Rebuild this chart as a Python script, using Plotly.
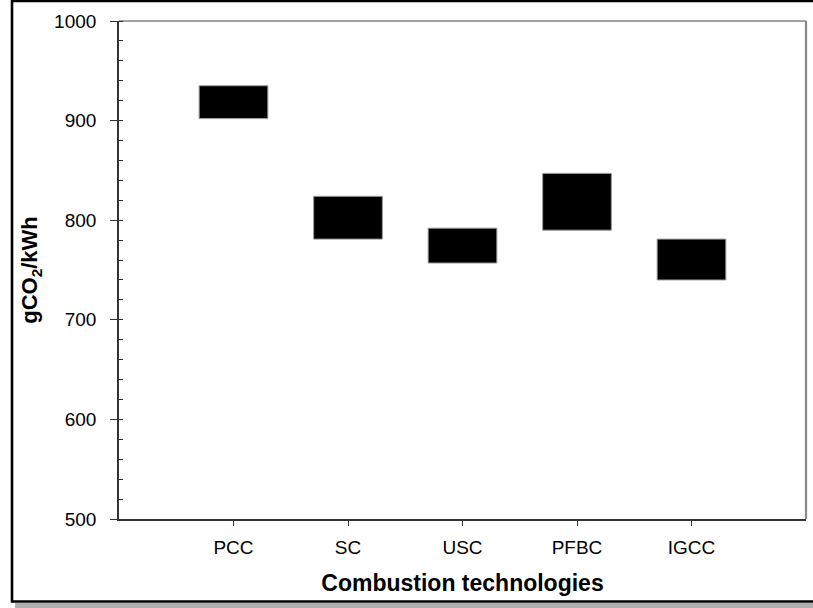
import plotly.graph_objects as go

categories = ["PCC", "SC", "USC", "PFBC", "IGCC"]
low_values = [902, 781, 757, 790, 740]
high_values = [935, 824, 792, 847, 781]
y_tick_values = [500, 600, 700, 800, 900, 1000]

heights = [h - l for h, l in zip(high_values, low_values)]

fig = go.Figure()
fig.add_trace(go.Bar(
    x=list(range(len(categories))),
    y=heights,
    base=low_values,
    width=0.6,
    marker=dict(color="black", line=dict(color="#9a9a9a", width=1)),
    showlegend=False,
    hoverinfo="skip",
))

W, H = 813, 608
L, R, T, B = 119, 7, 21, 89
pw, ph = W - L - R, H - T - B

def px(x):
    return (x - L) / pw

def py(y):
    return (H - B - y) / ph

font_family = "Liberation Sans, Arial, sans-serif"

fig.update_layout(
    width=W, height=H,
    margin=dict(l=L, r=R, t=T, b=B),
    paper_bgcolor="white",
    plot_bgcolor="white",
    font=dict(family=font_family, size=19, color="black"),
    xaxis=dict(
        range=[-1, 5],
        tickmode="array",
        tickvals=list(range(len(categories))),
        ticktext=categories,
        ticks="outside", ticklen=5, tickwidth=1.2, tickcolor="#333",
        showline=True, linecolor="#333", linewidth=1.6,
        showgrid=False, zeroline=False,
        ticklabelstandoff=5,
        title=dict(text="<b>Combustion technologies</b>", font=dict(size=23), standoff=18),
        fixedrange=True,
    ),
    yaxis=dict(
        range=[500, 1000],
        tickmode="array",
        tickvals=y_tick_values,
        ticks="outside", ticklen=7, tickwidth=1.2, tickcolor="#333",
        minor=dict(ticks="inside", ticklen=4, tickwidth=1.2, tickcolor="#333", dtick=20, showgrid=False),
        showline=True, linecolor="#333", linewidth=1.6,
        showgrid=False, zeroline=False,
        ticklabelstandoff=10,
        title=dict(text="<b>gCO<sub>2</sub>/kWh</b>", font=dict(size=22), standoff=10),
        fixedrange=True,
    ),
    shapes=[
        # shadow under outer frame
        dict(type="rect", xref="paper", yref="paper",
             x0=px(15), x1=px(840), y0=py(608), y1=py(603),
             fillcolor="#b0b0b0", line=dict(width=0), layer="below"),
        # outer frame
        dict(type="rect", xref="paper", yref="paper",
             x0=px(12), x1=px(840), y0=py(601.5), y1=py(1),
             line=dict(color="black", width=2.6), fillcolor="rgba(0,0,0,0)"),
        # top of plot box
        dict(type="line", xref="paper", yref="paper",
             x0=0, x1=1, y0=1, y1=1, line=dict(color="#444", width=1)),
        # right of plot box
        dict(type="line", xref="paper", yref="paper",
             x0=1, x1=1, y0=0, y1=1, line=dict(color="#888", width=2.2)),
    ],
)

fig.write_html("out.html", config=dict(displayModeBar=False))
